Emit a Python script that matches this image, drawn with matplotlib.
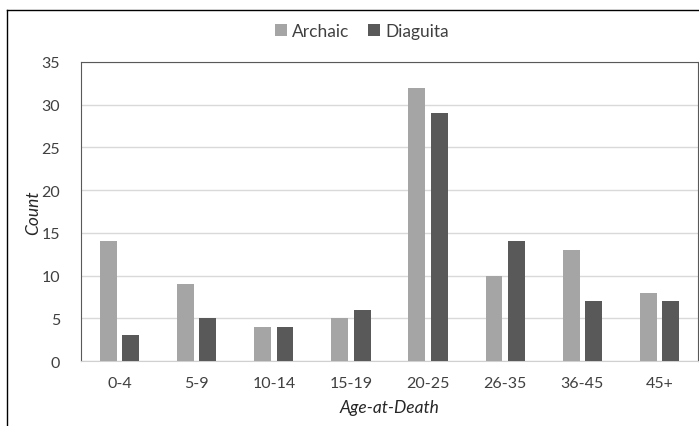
import matplotlib.pyplot as plt
import numpy as np
from matplotlib.lines import Line2D

plt.rcParams['font.family'] = ['Lato', 'DejaVu Sans']

# data
categories = ['0-4', '5-9', '10-14', '15-19', '20-25', '26-35', '36-45', '45+']
archaic = [14, 9, 4, 5, 32, 10, 13, 8]
diaguita = [3, 5, 4, 6, 29, 14, 7, 7]

fig = plt.figure(figsize=(6.99, 4.27), dpi=100)
ax = fig.add_axes([81 / 699, 1 - 362 / 427, 617 / 699, 299 / 427])

x = np.arange(len(categories))
w = 0.22
off = 0.145
ax.bar(x - off, archaic, w, color='#a5a5a5', label='Archaic', zorder=3)
ax.bar(x + off, diaguita, w, color='#595959', label='Diaguita', zorder=3)

ax.set_xlim(-0.5, len(categories) - 0.5)
ax.set_ylim(0, 35)
ax.set_yticks(range(0, 36, 5))
ax.set_xticks(x)
ax.set_xticklabels(categories)
ax.tick_params(length=0, labelsize=11.5, colors='#404040')
ax.tick_params(axis='x', pad=11)
ax.tick_params(axis='y', pad=15)
ax.grid(axis='y', color='#d9d9d9', linewidth=1, zorder=0)

for s in ['top', 'right', 'left']:
    ax.spines[s].set_color('#595959')
ax.spines['bottom'].set_color('#d0d0d0')

ax.set_xlabel('Age-at-Death', fontsize=12.5, style='italic', color='#262626', labelpad=6)
ax.set_ylabel('Count', fontsize=12.5, style='italic', color='#262626', labelpad=0)

fig.legend(loc='center', bbox_to_anchor=(362 / 699, 1 - 32 / 427), ncol=2, frameon=False,
           fontsize=12.5, handlelength=0.65, handleheight=0.65, handletextpad=0.3,
           columnspacing=1.1, labelcolor='#404040')

# outer chart border
fig.add_artist(Line2D([7 / 699, 7 / 699], [0, 1 - 11 / 427], color='black', linewidth=1,
                      transform=fig.transFigure))
fig.add_artist(Line2D([7 / 699, 1], [1 - 11 / 427, 1 - 11 / 427], color='black', linewidth=1,
                      transform=fig.transFigure))

fig.savefig('out.png', dpi=100)
